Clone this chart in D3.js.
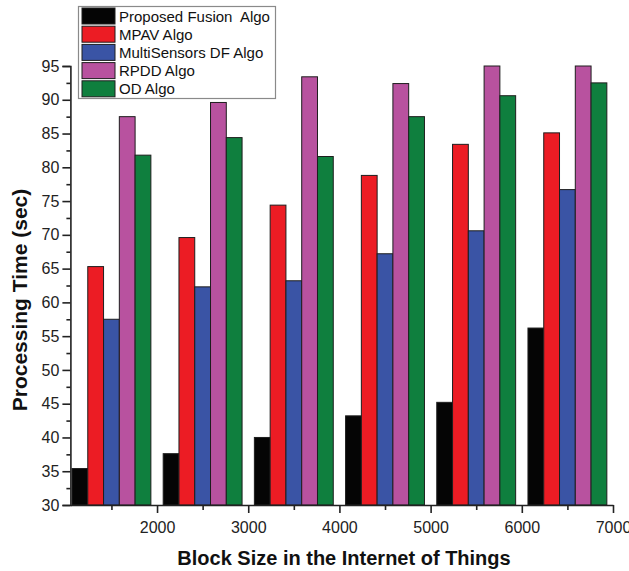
<!DOCTYPE html>
<html>
<head>
<meta charset="utf-8">
<script src="https://cdn.jsdelivr.net/npm/d3@7/dist/d3.min.js"></script>
<style>
  html, body { margin: 0; padding: 0; background: #fff; }
  svg { display: block; font-family: "Liberation Sans", Arial, sans-serif; }
</style>
</head>
<body>
<svg id="chart" width="629" height="571"></svg>
<script>
// Block sizes (group centres) and processing time per algorithm, in seconds
const blockSizes = [1500, 2500, 3500, 4500, 5500, 6500];
const proposedFusion = [35.4, 37.6, 40.0, 43.2, 45.2, 56.2];
const mpav = [65.3, 69.6, 74.4, 78.8, 83.4, 85.1];
const multiSensorsDF = [57.5, 62.3, 63.2, 67.2, 70.6, 76.7];
const rpdd = [87.5, 89.6, 93.4, 92.4, 95.0, 95.0];
const od = [81.8, 84.4, 81.6, 87.5, 90.6, 92.5];

const seriesNames = ["Proposed Fusion  Algo", "MPAV Algo", "MultiSensors DF Algo", "RPDD Algo", "OD Algo"];
const seriesValues = [proposedFusion, mpav, multiSensorsDF, rpdd, od];
const seriesColors = ["#050505", "#ec1c24", "#3a54a5", "#b8529f", "#0f7f3e"];

const xTicks = [2000, 3000, 4000, 5000, 6000, 7000];
const xMinorTicks = [1500, 2500, 3500, 4500, 5500, 6500];
const yTicks = [30, 35, 40, 45, 50, 55, 60, 65, 70, 75, 80, 85, 90, 95];
const yMinorTicks = d3.range(32.5, 95, 5);

const barUnit = 173; // width of one bar in block-size units

const svg = d3.select("#chart");

const x = d3.scaleLinear().domain([1050, 7000]).range([70.4, 613]);
const y = d3.scaleLinear().domain([30, 95]).range([505, 66]);

// bars
const bw = x(barUnit) - x(0);
seriesValues.forEach((vals, si) => {
  svg.append("g")
    .selectAll("rect")
    .data(vals)
    .join("rect")
    .attr("x", (d, i) => x(blockSizes[i] + (si - 2.5) * barUnit))
    .attr("y", d => y(d))
    .attr("width", bw)
    .attr("height", d => y(30) - y(d))
    .attr("fill", seriesColors[si])
    .attr("stroke", "#1e1e1e")
    .attr("stroke-width", 1);
});

// axes
function styleAxis(g) {
  g.selectAll("path.domain").attr("stroke", "#222").attr("stroke-width", 1.6);
  g.selectAll(".tick line").attr("stroke", "#222").attr("stroke-width", 1.6);
  g.selectAll("text")
    .attr("fill", "#222")
    .style("font-size", "16px")
    .style("font-family", "'Liberation Sans', Arial, sans-serif");
}

const yAxis = svg.append("g")
  .attr("transform", `translate(${x(1050)},0)`)
  .call(d3.axisLeft(y).tickValues(yTicks).tickSize(8).tickPadding(3).tickFormat(d3.format("d")));
styleAxis(yAxis);

const yMinor = svg.append("g")
  .attr("transform", `translate(${x(1050)},0)`)
  .call(d3.axisLeft(y).tickValues(yMinorTicks).tickSize(4).tickFormat(""));
styleAxis(yMinor);
yMinor.select("path.domain").remove();

const xAxis = svg.append("g")
  .attr("transform", `translate(0,${y(30)})`)
  .call(d3.axisBottom(x).tickValues(xTicks).tickSize(8).tickPadding(9).tickSizeOuter(0).tickFormat(d3.format("d")));
styleAxis(xAxis);

const xMinor = svg.append("g")
  .attr("transform", `translate(0,${y(30)})`)
  .call(d3.axisBottom(x).tickValues(xMinorTicks).tickSize(5).tickFormat(""));
styleAxis(xMinor);
xMinor.select("path.domain").remove();

// axis titles
svg.append("text")
  .attr("x", 344)
  .attr("y", 565)
  .attr("text-anchor", "middle")
  .attr("font-weight", "bold")
  .attr("font-size", 20)
  .attr("fill", "#111")
  .text("Block Size in the Internet of Things");

svg.append("text")
  .attr("transform", "translate(27,300) rotate(-90)")
  .attr("text-anchor", "middle")
  .attr("font-weight", "bold")
  .attr("font-size", 21)
  .attr("fill", "#111")
  .text("Processing Time (sec)");

// legend
const legend = svg.append("g");
legend.append("rect")
  .attr("x", 78.5).attr("y", 6.5)
  .attr("width", 197).attr("height", 92)
  .attr("fill", "#fff")
  .attr("stroke", "#8a8a8a")
  .attr("stroke-width", 1.2);

const rows = legend.selectAll("g.row")
  .data(seriesNames)
  .join("g")
  .attr("class", "row")
  .attr("transform", (d, i) => `translate(0,${8 + i * 18.2})`);

rows.append("rect")
  .attr("x", 82).attr("y", 0)
  .attr("width", 33).attr("height", 16)
  .attr("fill", (d, i) => seriesColors[i])
  .attr("stroke", "#1e1e1e")
  .attr("stroke-width", 1);

rows.append("text")
  .attr("x", 119).attr("y", 13.5)
  .attr("font-size", 15)
  .attr("fill", "#111")
  .style("white-space", "pre")
  .text(d => d);
</script>
</body>
</html>
